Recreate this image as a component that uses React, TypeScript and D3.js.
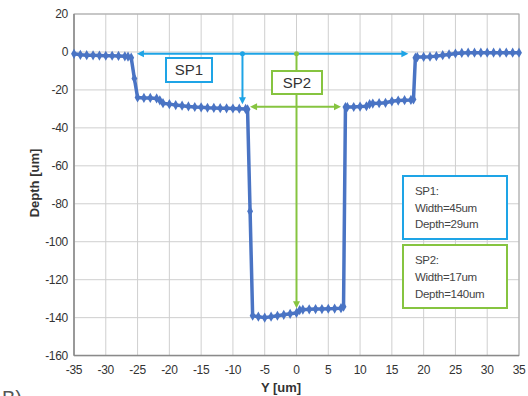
import React from "react";
import * as d3 from "d3";

const W = 528;
const H = 396;

// Profile data: lateral position Y [um] and depth [um]
const profX = [
  -35, -34, -33, -32, -31, -30, -29, -28, -27, -26.5, -26, -25.5, -25,
  -24, -23, -22, -21.5, -21, -20, -19, -18, -17, -16, -15, -14, -13, -12,
  -11, -10, -9, -8, -7.7, -7.3, -6.9, -6, -5, -4, -3, -2, -1, 0, 0.5, 1,
  2, 3, 4, 5, 6, 7, 7.4, 7.7, 8, 9, 10, 11, 11.5, 12, 13, 14, 15, 16, 17,
  18, 18.4, 18.7, 19, 20, 21, 22, 23, 24, 25, 26, 27, 28, 29, 30, 31, 32,
  33, 34, 35,
];
const profY = [
  -1.0, -1.5, -1.7, -1.8, -1.9, -2.0, -2.0, -2.1, -2.3, -2.5, -3.0, -14,
  -24, -24.2, -24.2, -24.5, -25.5, -27, -27.5, -28, -28.3, -28.7, -29,
  -29.2, -29.4, -29.5, -29.6, -29.7, -29.8, -29.9, -30, -30.2, -84, -139,
  -139.5, -140, -139.5, -139, -138.5, -138, -137.5, -136, -135.8, -135.6,
  -135.5, -135.5, -135.3, -135.2, -135, -134.2, -29, -29, -29, -28.8,
  -28.6, -27.5, -27.2, -27, -26.8, -26, -25.6, -25.4, -25.3, -25, -3,
  -2.7, -2.6, -2.5, -2.2, -1.7, -1.3, -0.8, -0.5, -0.4, -0.4, -0.4, -0.4,
  -0.4, -0.4, -0.4, -0.4, -0.4,
];

const xTicks = [-35, -30, -25, -20, -15, -10, -5, 0, 5, 10, 15, 20, 25, 30, 35];
const yTicks = [20, 0, -20, -40, -60, -80, -100, -120, -140, -160];

// SP1 measurement (width 45um, depth 29um)
const sp1Span = [-25.1, 17.6];
const sp1Level = -1;
const sp1VertX = -8.5;
const sp1Bottom = -27.5;
const sp1Info = ["SP1:", "Width=45um", "Depth=29um"];
// SP2 measurement (width 17um, depth 140um)
const sp2Span = [-7.3, 7.0];
const sp2Level = -28.9;
const sp2VertX = 0;
const sp2Bottom = -135;
const sp2Info = ["SP2:", "Width=17um", "Depth=140um"];

const BLUE = "#4a74c4";
const CYAN = "#1ea4e6";
const GREEN = "#86c440";
const FONT = "'Liberation Sans', Arial, Helvetica, sans-serif";

function Arrow({ x1, y1, x2, y2, color, both = false, dot = false }: any) {
  const a = Math.atan2(y2 - y1, x2 - x1);
  const L = 7;
  const wdt = 3.5;
  const head = (x: number, y: number, ang: number) => {
    const bx = x - L * Math.cos(ang);
    const by = y - L * Math.sin(ang);
    const px = -Math.sin(ang) * wdt;
    const py = Math.cos(ang) * wdt;
    return `M${x},${y}L${bx + px},${by + py}L${bx - px},${by - py}Z`;
  };
  const sx = both ? x1 + (L - 1) * Math.cos(a) : x1;
  const sy = both ? y1 + (L - 1) * Math.sin(a) : y1;
  const ex = x2 - (L - 1) * Math.cos(a);
  const ey = y2 - (L - 1) * Math.sin(a);
  return (
    <g>
      <line x1={sx} y1={sy} x2={ex} y2={ey} stroke={color} strokeWidth={2} />
      <path d={head(x2, y2, a)} fill={color} />
      {both && <path d={head(x1, y1, a + Math.PI)} fill={color} />}
      {dot && <circle cx={x1} cy={y1} r={2.5} fill={color} />}
    </g>
  );
}

export default function App() {
  const x = d3.scaleLinear().domain([-35, 35]).range([74, 519]);
  const y = d3.scaleLinear().domain([20, -160]).range([14, 355.6]);
  const pts = profX.map((v, i) => [v, profY[i]] as [number, number]);
  const line = d3
    .line<[number, number]>()
    .x((d) => x(d[0]))
    .y((d) => y(d[1]));
  const diamond = d3.symbol().type(d3.symbolDiamond).size(30)();

  const [x0, x1] = x.range();
  const [y0, y1] = y.range();

  return (
    <svg
      width={W}
      height={H}
      style={{ position: "absolute", left: 0, top: 0, background: "#fff" }}
      fontFamily={FONT}
    >
      <rect x={0} y={0} width={W} height={H} fill="#fff" />
      {/* grid */}
      {xTicks.map((t) => (
        <line key={"gx" + t} x1={x(t)} x2={x(t)} y1={y0} y2={y1} stroke="#cfcfcf" strokeWidth={1} />
      ))}
      {yTicks.map((t) => (
        <line key={"gy" + t} x1={x0} x2={x1} y1={y(t)} y2={y(t)} stroke="#cfcfcf" strokeWidth={1} />
      ))}
      {/* frame */}
      <rect x={x0} y={y0} width={x1 - x0} height={y1 - y0} fill="none" stroke="#a8a8a8" strokeWidth={1} />
      <line x1={x0} x2={x0} y1={y0} y2={y1} stroke="#8a8a8a" strokeWidth={1.5} />
      <line x1={x0} x2={x1} y1={y1} y2={y1} stroke="#8a8a8a" strokeWidth={1.5} />

      {/* tick labels */}
      {yTicks.map((t) => (
        <text key={"ty" + t} x={68} y={y(t) + 4} fontSize={12} fill="#333" textAnchor="end" letterSpacing={-0.3}>
          {t}
        </text>
      ))}
      {xTicks.map((t) => (
        <text key={"tx" + t} x={x(t)} y={374} fontSize={12} fill="#333" textAnchor="middle" letterSpacing={-0.3}>
          {t}
        </text>
      ))}
      <text x={281} y={392} fontSize={13} fontWeight="bold" fill="#333" textAnchor="middle">
        Y [um]
      </text>
      <text
        transform={`translate(39,183) rotate(-90)`}
        fontSize={13}
        fontWeight="bold"
        fill="#333"
        textAnchor="middle"
      >
        Depth [um]
      </text>
      <text x={2} y={405} fontSize={20} fill="#555">
        B)
      </text>

      {/* SP1 annotation */}
      <Arrow x1={x(sp1Span[0])} y1={y(sp1Level)} x2={x(sp1Span[1])} y2={y(sp1Level)} color={CYAN} both />
      <Arrow x1={x(sp1VertX)} y1={y(sp1Level)} x2={x(sp1VertX)} y2={y(sp1Bottom)} color={CYAN} dot />
      {/* SP2 annotation */}
      <Arrow x1={x(sp2Span[0])} y1={y(sp2Level)} x2={x(sp2Span[1])} y2={y(sp2Level)} color={GREEN} both />
      <Arrow x1={x(sp2VertX)} y1={y(sp1Level)} x2={x(sp2VertX)} y2={y(sp2Bottom)} color={GREEN} dot />

      {/* profile */}
      <path d={line(pts) || ""} fill="none" stroke={BLUE} strokeWidth={3.5} strokeLinejoin="round" />
      {pts.map((p, i) => (
        <path key={"m" + i} d={diamond || ""} transform={`translate(${x(p[0])},${y(p[1])})`} fill={BLUE} />
      ))}

      {/* label boxes */}
      <rect x={166} y={58} width={46} height={24} fill="#fff" stroke={CYAN} strokeWidth={2} />
      <text x={189} y={75} fontSize={15} fill="#333" textAnchor="middle">SP1</text>
      <rect x={272} y={71} width={50} height={23} fill="#fff" stroke={GREEN} strokeWidth={2} />
      <text x={297} y={88} fontSize={15} fill="#333" textAnchor="middle">SP2</text>

      {/* info boxes */}
      <rect x={403} y={176} width={104} height={63} fill="#fff" stroke={CYAN} strokeWidth={2} />
      {sp1Info.map((s, i) => (
        <text key={"i1" + i} x={415} y={195 + i * 16.5} fontSize={11.5} fill="#444" letterSpacing={-0.3}>
          {s}
        </text>
      ))}
      <rect x={403} y={245} width={104} height={63} fill="#fff" stroke={GREEN} strokeWidth={2} />
      {sp2Info.map((s, i) => (
        <text key={"i2" + i} x={415} y={264 + i * 17} fontSize={11.5} fill="#444" letterSpacing={-0.3}>
          {s}
        </text>
      ))}
    </svg>
  );
}
